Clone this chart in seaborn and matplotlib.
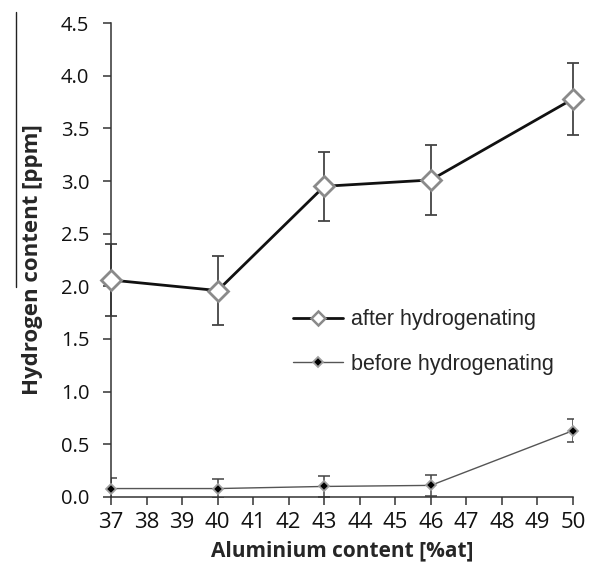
import numpy as np
import pandas as pd
import matplotlib
matplotlib.use("Agg")
import matplotlib.pyplot as plt
from matplotlib.lines import Line2D
import seaborn as sns

# values
aluminium = [37, 40, 43, 46, 50]
after_h = [2.06, 1.96, 2.95, 3.01, 3.78]
after_err = [0.34, 0.33, 0.33, 0.33, 0.34]
before_h = [0.08, 0.08, 0.10, 0.11, 0.63]
before_err = [0.10, 0.09, 0.10, 0.10, 0.11]

x_ticks = list(range(37, 51))
y_ticks = [0.0, 0.5, 1.0, 1.5, 2.0, 2.5, 3.0, 3.5, 4.0, 4.5]

df = pd.DataFrame({
    "Aluminium": aluminium * 2,
    "H": after_h + before_h,
    "series": ["after hydrogenating"] * 5 + ["before hydrogenating"] * 5,
})

sns.set_style("ticks")
plt.rcParams['font.family'] = ['Open Sans', 'DejaVu Sans']

fig = plt.figure(figsize=(5.95, 5.62), dpi=100)
ax = fig.add_axes([0.1866, 0.1157, 0.7764, 0.8433])

# error bars first so markers sit on top
ax.errorbar(aluminium, after_h, yerr=after_err, fmt="none", ecolor="#444444",
            elinewidth=1.3, capsize=4.3, capthick=1.3, clip_on=False, zorder=2)
ax.errorbar(aluminium, before_h, yerr=before_err, fmt="none", ecolor="#444444",
            elinewidth=1.1, capsize=4, capthick=1.1, zorder=2)

after_df = df[df["series"] == "after hydrogenating"]
before_df = df[df["series"] == "before hydrogenating"]

sns.lineplot(data=after_df, x="Aluminium", y="H", ax=ax, color="#111111",
             linewidth=2.0, marker="D", markersize=10, markerfacecolor="white",
             markeredgecolor="#8a8a8a", markeredgewidth=2.0,
             label="after hydrogenating", clip_on=False, zorder=3)
sns.lineplot(data=before_df, x="Aluminium", y="H", ax=ax, color="#555555",
             linewidth=1.0, marker="D", markersize=5, markerfacecolor="black",
             markeredgecolor="#a0a0a0", markeredgewidth=1.3,
             label="before hydrogenating", clip_on=False, zorder=3)

ax.set_xlim(37, 50)
ax.set_ylim(0, 4.5)
ax.set_xticks(x_ticks)
ax.set_yticks(y_ticks)
ax.set_yticklabels([f"{v:.1f}" for v in y_ticks])
ax.tick_params(axis="both", direction="out", length=5.5,
               width=1.1, color="#333333", labelcolor="#111111")
ax.tick_params(axis="x", labelsize=16, pad=5)
ax.tick_params(axis="y", labelsize=14.5, pad=10)
for s in ["left", "bottom"]:
    ax.spines[s].set_linewidth(1.1)
    ax.spines[s].set_color("#333333")
sns.despine(ax=ax)

ax.set_xlabel("Aluminium content [%at]", fontsize=15, fontweight="bold", labelpad=6)
ax.set_ylabel("Hydrogen content [ppm]", fontsize=16, fontweight="bold", labelpad=13)

leg = ax.legend(loc="center left", bbox_to_anchor=(0.352, 0.327), frameon=False,
                prop={"family": "Liberation Sans", "size": 15.5},
                handlelength=2.3, labelspacing=1.1, handletextpad=0.4)
for h in leg.legend_handles:
    if h.get_label().startswith("after"):
        h.set_markersize(7)
        h.set_markeredgewidth(1.8)

# thin scan line at the left edge of the reference
fig.add_artist(Line2D([16 / 595, 16 / 595], [1 - 12 / 562, 1 - 287 / 562],
                      color="#222222", linewidth=1.0))

fig.savefig("out.png", dpi=100)
